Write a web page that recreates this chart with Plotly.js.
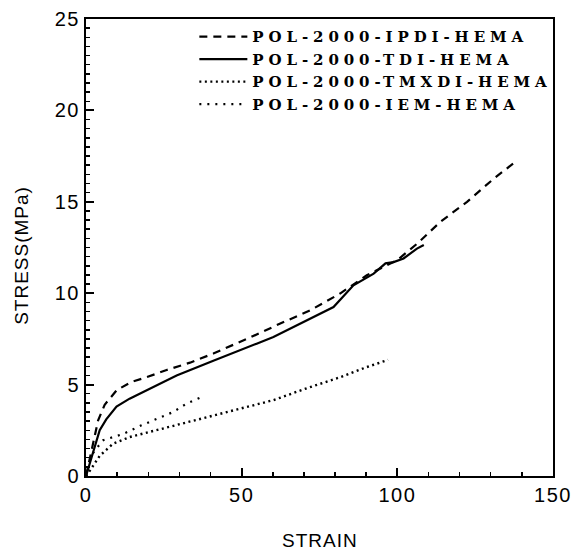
<!DOCTYPE html>
<html>
<head>
<meta charset="utf-8">
<script src="https://cdn.plot.ly/plotly-3.0.1.min.js"></script>
<style>
  html, body { margin: 0; padding: 0; background: #fff; }
  #chart { width: 574px; height: 550px; }
  .legendtext { letter-spacing: 4.9px; }
  .xtick text, .ytick text { letter-spacing: 1.5px; }
  .annotation-text { letter-spacing: 1px; }
</style>
</head>
<body>
<div id="chart"></div>
<script>
// Data
const seriesNames = ["POL-2000-IPDI-HEMA", "POL-2000-TDI-HEMA", "POL-2000-TMXDI-HEMA", "POL-2000-IEM-HEMA"];

const ipdiStrain = [0, 1.7, 3.9, 6, 9.9, 14.6, 19.4, 25.9, 33.4, 40.9, 48.4, 53, 62.4, 72, 81.6, 90.2, 99.9, 106.3, 113.8, 122.4, 131, 138];
const ipdiStress = [0, 1.3, 3.05, 3.9, 4.7, 5.15, 5.4, 5.8, 6.2, 6.7, 7.24, 7.6, 8.34, 9.06, 9.98, 10.98, 11.8, 12.7, 13.9, 15.0, 16.27, 17.2];

const tdiStrain = [0, 2.2, 4.4, 6.5, 9.8, 14, 19.4, 29.1, 40.9, 49.4, 54.8, 60.2, 71, 79.5, 85.9, 92.4, 96.2, 98.8, 102, 106.3, 108.5];
const tdiStress = [0, 1.2, 2.5, 3.1, 3.8, 4.23, 4.7, 5.5, 6.3, 6.9, 7.24, 7.6, 8.52, 9.24, 10.43, 11.07, 11.63, 11.7, 11.9, 12.44, 12.64];

const tmxdiStrain = [0, 0.6, 4.4, 8.7, 14, 24.8, 35.5, 46.2, 55.9, 60.2, 70.9, 81.6, 90.2, 97];
const tmxdiStress = [0, 0.13, 1.1, 1.77, 2.13, 2.6, 3.05, 3.55, 3.96, 4.15, 4.8, 5.4, 5.96, 6.35];

const iemStrain = [0, 1.7, 5.4, 11.9, 17.8, 23.7, 28, 32.3, 37.6];
const iemStress = [0, 1.13, 1.95, 2.3, 2.77, 3.2, 3.5, 3.96, 4.35];

const xTickVals = [0, 50, 100, 150];
const yTickVals = [0, 5, 10, 15, 20, 25];
const xMinorStep = 10;
const yMinorStep = 0.5;
const xTitle = "STRAIN";
const yTitle = "STRESS(MPa)";

const traces = [
  { x: ipdiStrain, y: ipdiStress, name: seriesNames[0], mode: "lines",
    line: { color: "#000", width: 2.2, dash: "8px,6px" } },
  { x: tdiStrain, y: tdiStress, name: seriesNames[1], mode: "lines",
    line: { color: "#000", width: 2.2 } },
  { x: tmxdiStrain, y: tmxdiStress, name: seriesNames[2], mode: "lines",
    line: { color: "#000", width: 2.4, dash: "2px,3.5px" } },
  { x: iemStrain, y: iemStress, name: seriesNames[3], mode: "lines",
    line: { color: "#000", width: 2.2, dash: "2px,6px" } },
  // empty trace that activates the overlay axes used for the minor ticks
  { x: [], y: [], xaxis: "x2", yaxis: "y2", mode: "lines", showlegend: false, hoverinfo: "skip" }
];

const axisFont = { family: "Liberation Sans, Arial, sans-serif", size: 20, color: "#000" };
const titleFont = { family: "Liberation Sans, Arial, sans-serif", size: 19, color: "#000" };

const layout = {
  width: 574, height: 550,
  margin: { l: 86, r: 21, t: 19, b: 74 },
  paper_bgcolor: "#fff", plot_bgcolor: "#fff",
  showlegend: true,
  legend: {
    x: 0.232, y: 0.997, xanchor: "left", yanchor: "top",
    bgcolor: "rgba(0,0,0,0)", borderwidth: 0,
    itemwidth: 48,
    font: { family: "DejaVu Serif, serif", size: 15, color: "#000", weight: "bold" },
    tracegroupgap: 0
  },
  xaxis: {
    range: [0, 150], tickmode: "array", tickvals: xTickVals, ticktext: xTickVals.map(String),
    ticks: "inside", ticklen: 8, tickwidth: 2, tickcolor: "#000",
    showline: true, linewidth: 2, linecolor: "#000", mirror: true,
    showgrid: false, zeroline: false,
    tickfont: axisFont
  },
  yaxis: {
    range: [0, 25], tickmode: "array", tickvals: yTickVals, ticktext: yTickVals.map(String),
    ticksuffix: "\u00a0",
    ticks: "inside", ticklen: 8, tickwidth: 2, tickcolor: "#000",
    showline: true, linewidth: 2, linecolor: "#000", mirror: true,
    showgrid: false, zeroline: false,
    tickfont: axisFont
  },
  xaxis2: {
    overlaying: "x", anchor: "y2", side: "bottom",
    range: [0, 150], tickmode: "linear", tick0: 0, dtick: xMinorStep,
    ticks: "inside", ticklen: 4, tickwidth: 1.5, tickcolor: "#000",
    showticklabels: false, showline: false, showgrid: false, zeroline: false
  },
  yaxis2: {
    overlaying: "y", anchor: "x2", side: "left",
    range: [0, 25], tickmode: "linear", tick0: 0, dtick: yMinorStep,
    ticks: "inside", ticklen: 4, tickwidth: 1.5, tickcolor: "#000",
    showticklabels: false, showline: false, showgrid: false, zeroline: false
  },
  annotations: [
    { text: xTitle, xref: "paper", yref: "paper", x: 0.5, y: -0.141, xanchor: "center", yanchor: "middle",
      showarrow: false, font: titleFont },
    { text: yTitle, xref: "paper", yref: "paper", x: -0.138, y: 0.483, xanchor: "center", yanchor: "middle",
      textangle: -90, showarrow: false, font: titleFont }
  ]
};

Plotly.newPlot("chart", traces, layout, { staticPlot: true, displayModeBar: false });
</script>
</body>
</html>
